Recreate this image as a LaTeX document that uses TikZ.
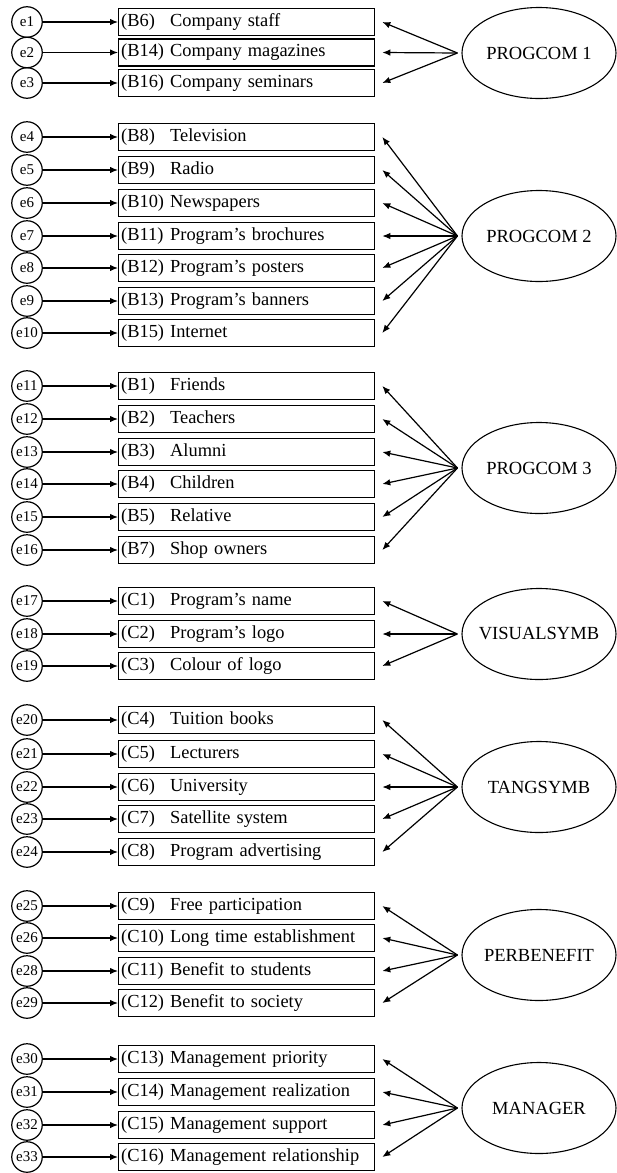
\documentclass[tikz,border=0pt]{standalone}
\usepackage{fontspec}
\setmainfont{Liberation Serif}
\usetikzlibrary{arrows.meta,shapes.geometric}
% item code in a fixed-width slot so the descriptions line up
\newcommand\itemcode[1]{\makebox[49pt][l]{#1}}
% one indicator row: error term, item box and the arrow between them
\newcommand\mrow[5]{%
  \node[err] (e#1) at (27,#2) {#3};
  \node[item] (b#1) at (118,#2) {\itemcode{#4}#5};
  \draw[arr] (e#1) -- (b#1);
}
% factor label that does not stretch its ellipse
\newcommand\flabel[1]{\makebox[0pt]{#1}}
\begin{document}
\begin{tikzpicture}[x=1pt,y=-1pt,
  err/.style={circle,draw,line width=1.2pt,minimum size=30.5pt,inner sep=0pt,
    font=\fontsize{15}{15}\selectfont},
  item/.style={rectangle,draw,line width=1.3pt,minimum width=256pt,minimum height=27pt,
    inner xsep=2.5pt,inner ysep=0pt,anchor=west,align=left,text width=251pt,
    font=\fontsize{18.4}{20}\selectfont},
  factor/.style={ellipse,draw,line width=1.1pt,minimum width=154pt,minimum height=91pt,
    inner sep=0pt,font=\fontsize{18.5}{20}\selectfont},
  arr/.style={-{Latex[length=8pt,width=6.5pt]},line width=1.2pt},
  load/.style={arr},
]
\useasboundingbox (0,0) rectangle (616,1173);

% PROGCOM 1
\mrow{1}{22}{e1}{(B6)}{Company staff}
\mrow{2}{52.5}{e2}{(B14)}{Company magazines}
\mrow{3}{83}{e3}{(B16)}{Company seminars}
\node[factor] (f1) at (539,53) {\flabel{PROGCOM 1}};
\foreach \i in {1,2,3} \draw[load] ([xshift=-4pt]f1.west) -- ([xshift=7pt]b\i.east);

% PROGCOM 2
\mrow{4}{137}{e4}{(B8)}{Television}
\mrow{5}{170}{e5}{(B9)}{Radio}
\mrow{6}{203}{e6}{(B10)}{Newspapers}
\mrow{7}{236}{e7}{(B11)}{Program’s brochures}
\mrow{8}{268}{e8}{(B12)}{Program’s posters}
\mrow{9}{301}{e9}{(B13)}{Program’s banners}
\mrow{10}{333}{e10}{(B15)}{Internet}
\node[factor] (f2) at (539,236) {\flabel{PROGCOM 2}};
\foreach \i in {4,...,10} \draw[load] ([xshift=-4pt]f2.west) -- ([xshift=7pt]b\i.east);

% PROGCOM 3
\mrow{11}{386}{e11}{(B1)}{Friends}
\mrow{12}{419}{e12}{(B2)}{Teachers}
\mrow{13}{452}{e13}{(B3)}{Alumni}
\mrow{14}{484}{e14}{(B4)}{Children}
\mrow{15}{517}{e15}{(B5)}{Relative}
\mrow{16}{550}{e16}{(B7)}{Shop owners}
\node[factor] (f3) at (539,468) {\flabel{PROGCOM 3}};
\foreach \i in {11,...,16} \draw[load] ([xshift=-4pt]f3.west) -- ([xshift=7pt]b\i.east);

% VISUALSYMB
\mrow{17}{601}{e17}{(C1)}{Program’s name}
\mrow{18}{634}{e18}{(C2)}{Program’s logo}
\mrow{19}{666}{e19}{(C3)}{Colour of logo}
\node[factor] (f4) at (539,634) {\flabel{VISUALSYMB}};
\foreach \i in {17,18,19} \draw[load] ([xshift=-4pt]f4.west) -- ([xshift=7pt]b\i.east);

% TANGSYMB
\mrow{20}{720}{e20}{(C4)}{Tuition books}
\mrow{21}{754}{e21}{(C5)}{Lecturers}
\mrow{22}{787}{e22}{(C6)}{University}
\mrow{23}{819}{e23}{(C7)}{Satellite system}
\mrow{24}{852}{e24}{(C8)}{Program advertising}
\node[factor] (f5) at (539,787) {\flabel{TANGSYMB}};
\foreach \i in {20,...,24} \draw[load] ([xshift=-4pt]f5.west) -- ([xshift=7pt]b\i.east);

% PERBENEFIT
\mrow{25}{906}{e25}{(C9)}{Free participation}
\mrow{26}{938}{e26}{(C10)}{Long time establishment}
\mrow{28}{971}{e28}{(C11)}{Benefit to students}
\mrow{29}{1003}{e29}{(C12)}{Benefit to society}
\node[factor] (f6) at (539,955) {\flabel{PERBENEFIT}};
\foreach \i in {25,26,28,29} \draw[load] ([xshift=-4pt]f6.west) -- ([xshift=7pt]b\i.east);

% MANAGER
\mrow{30}{1059}{e30}{(C13)}{Management priority}
\mrow{31}{1092}{e31}{(C14)}{Management realization}
\mrow{32}{1125}{e32}{(C15)}{Management support}
\mrow{33}{1157}{e33}{(C16)}{Management relationship}
\node[factor] (f7) at (539,1108) {\flabel{MANAGER}};
\foreach \i in {30,...,33} \draw[load] ([xshift=-4pt]f7.west) -- ([xshift=7pt]b\i.east);
\end{tikzpicture}
\end{document}
